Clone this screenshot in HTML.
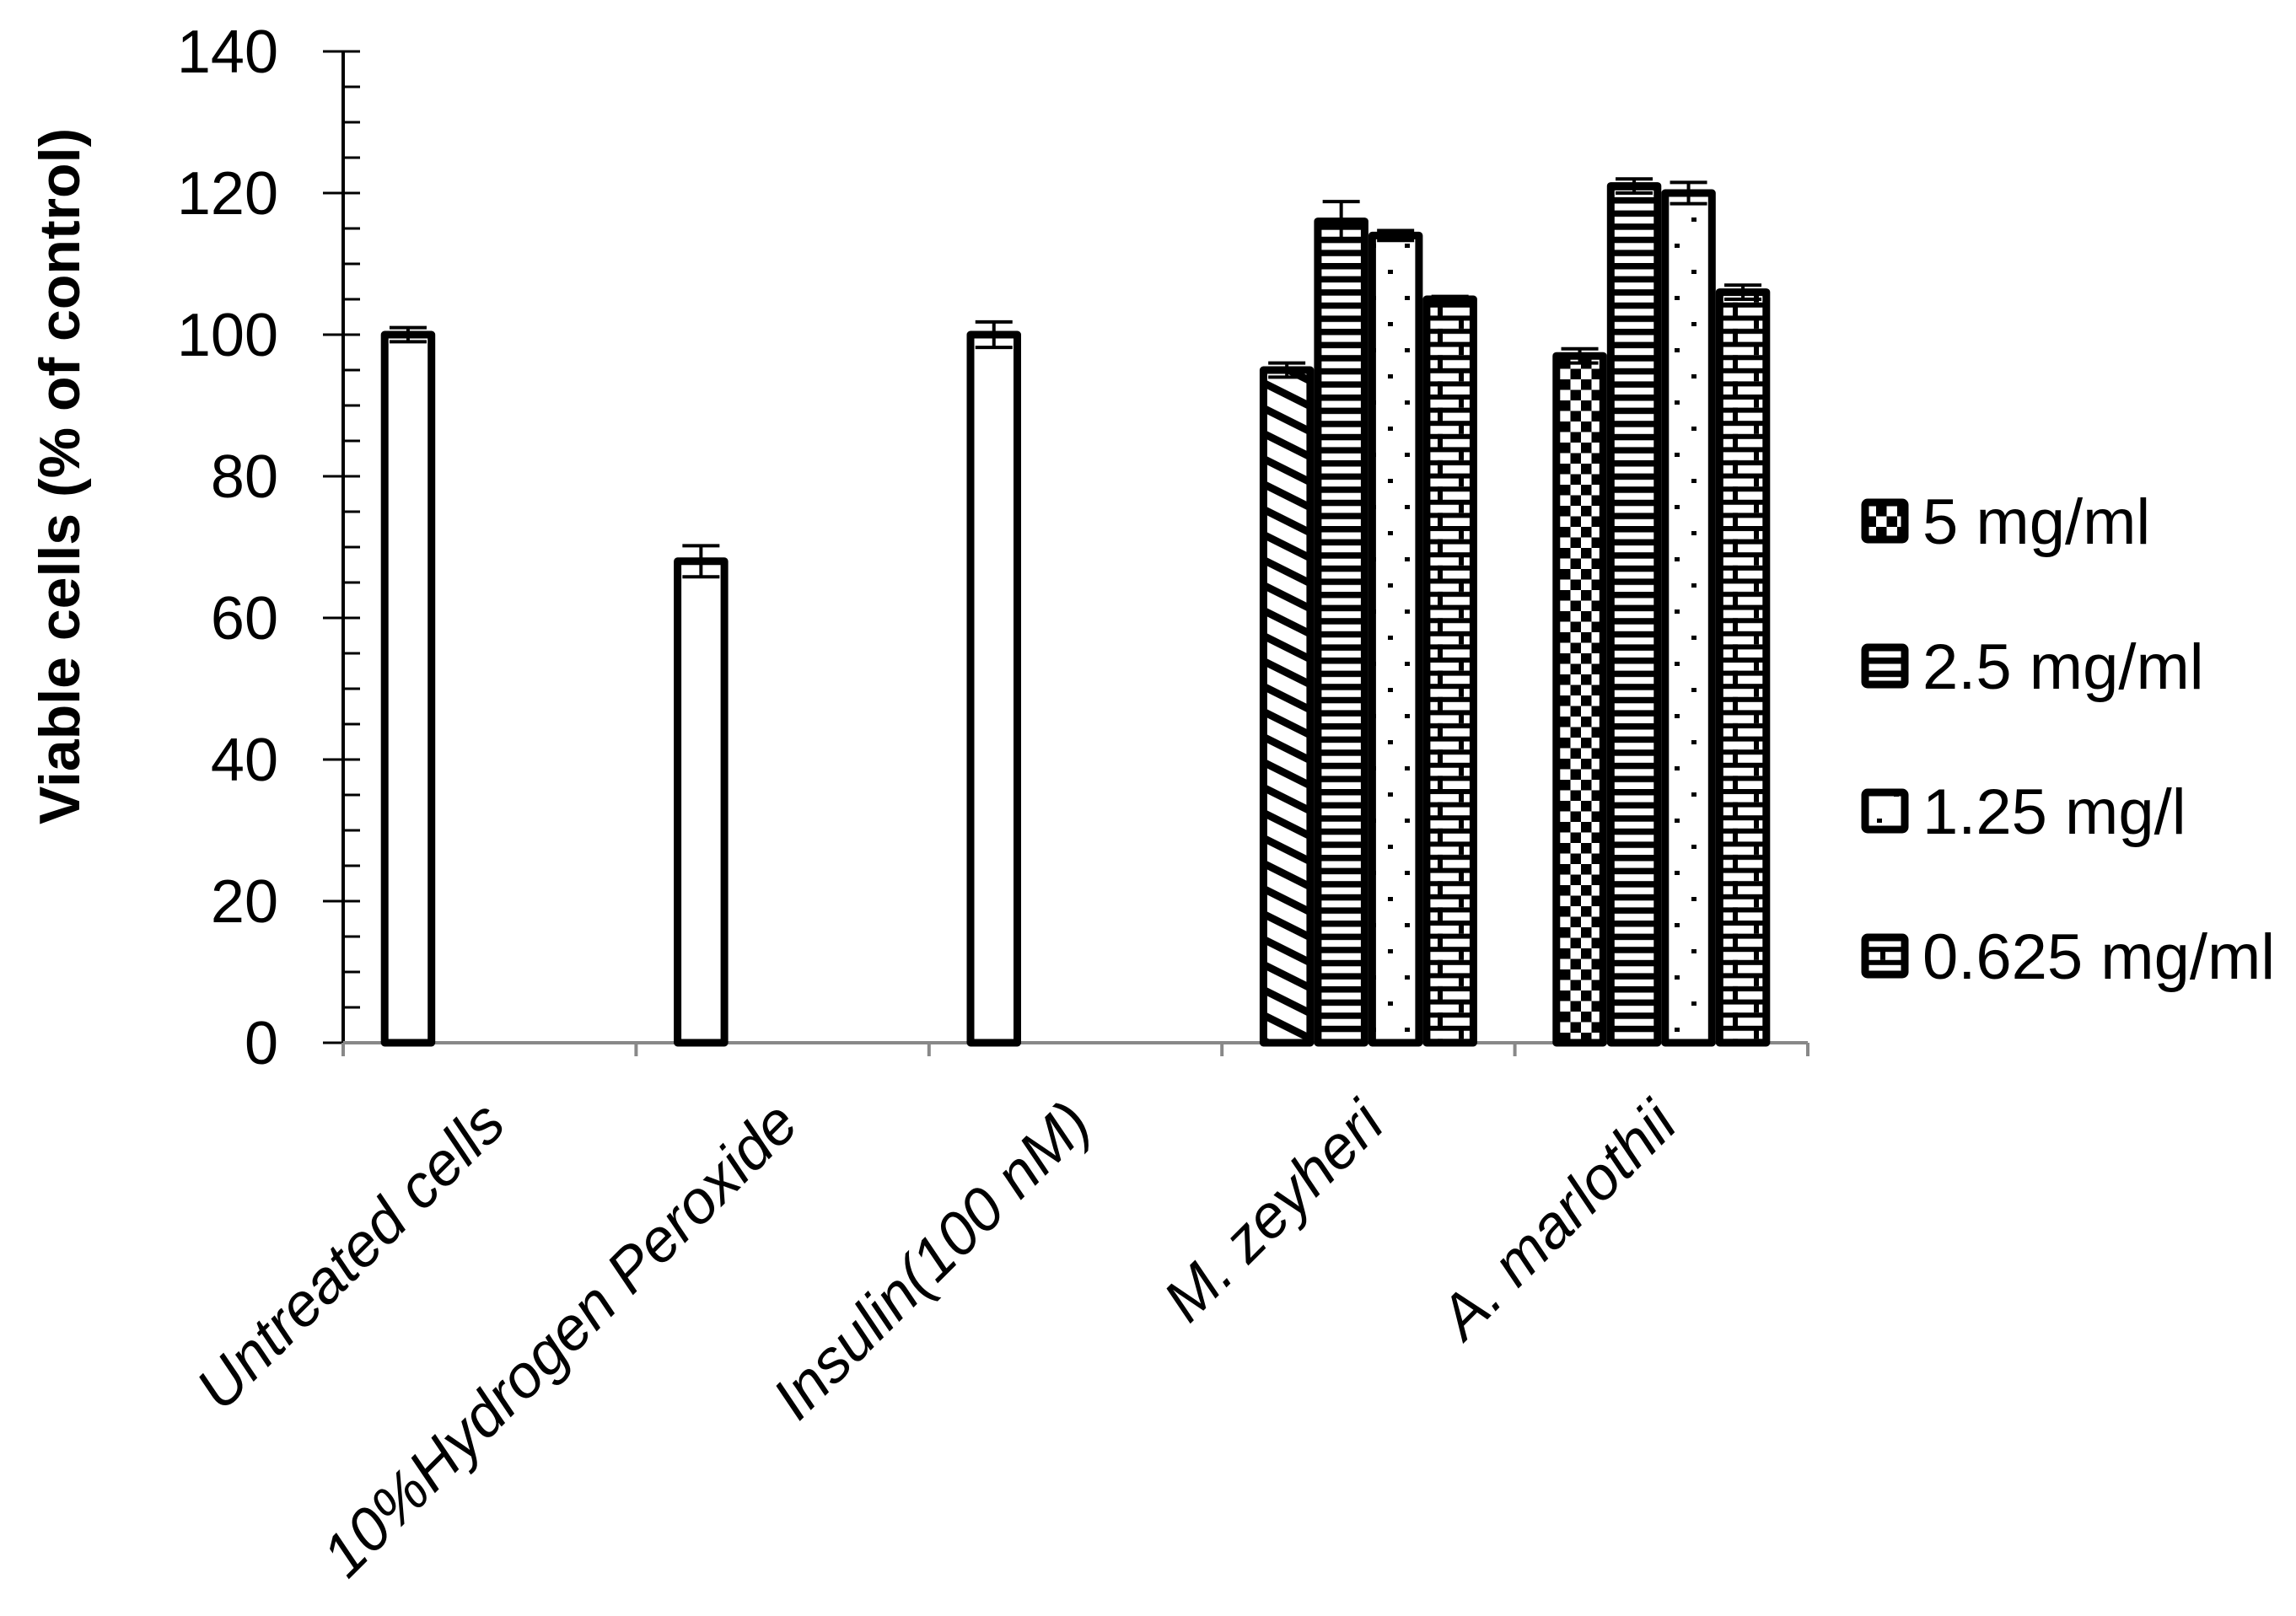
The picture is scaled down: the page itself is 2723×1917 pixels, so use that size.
<!DOCTYPE html>
<html><head><meta charset="utf-8"><style>
html,body{margin:0;padding:0;background:#fff;}
svg{display:block;font-family:"Liberation Sans",sans-serif;}
</style></head><body>
<svg id="chart" width="2723" height="1917" viewBox="0 0 2723 1917" xmlns="http://www.w3.org/2000/svg">
<defs>
<pattern id="p-check" patternUnits="userSpaceOnUse" width="25" height="25"><rect width="25" height="25" fill="#fff"/><rect width="12.5" height="12.5" fill="#000"/><rect x="12.5" y="12.5" width="12.5" height="12.5" fill="#000"/></pattern>
<pattern id="p-hstripe" patternUnits="userSpaceOnUse" width="20" height="15.6"><rect width="20" height="15.6" fill="#fff"/><rect y="0" width="20" height="7.5" fill="#000"/></pattern>
<pattern id="p-dots" patternUnits="userSpaceOnUse" width="40" height="62"><rect width="40" height="62" fill="#fff"/><rect x="6" y="10" width="6" height="5" fill="#000"/><rect x="26" y="41" width="6" height="5" fill="#000"/></pattern>
<pattern id="p-brick" patternUnits="userSpaceOnUse" width="50" height="31.2"><rect width="50" height="31.2" fill="#fff"/><rect y="0" width="50" height="6" fill="#000"/><rect y="15.6" width="50" height="6" fill="#000"/><rect x="30" y="0" width="6" height="15.6" fill="#000"/><rect x="5" y="15.6" width="6" height="15.6" fill="#000"/></pattern>
<pattern id="p-diag" patternUnits="userSpaceOnUse" width="60" height="30"><rect width="60" height="30" fill="#fff"/><polygon points="0,0 60,30 60,40 0,10" fill="#000"/><polygon points="0,-30 60,0 60,10 0,-20" fill="#000"/></pattern>
</defs>
<g id="axes"></g>
<g id="bars"></g>
<g id="legend"></g>
</svg>
<script>
const categories = ["Untreated cells","10%Hydrogen Peroxide","Insulin(100 nM)","M. zeyheri","A. marlothii"];
const seriesNames = ["5 mg/ml","2.5 mg/ml","1.25 mg/l","0.625 mg/ml"];
const s1Values = [100, 68, 100, 95, 97];
const s1Errors = [1, 2.2, 1.8, 1, 1];
const s2Values = [null, null, null, 116, 121];
const s2Errors = [null, null, null, 2.8, 1];
const s3Values = [null, null, null, 114, 120];
const s3Errors = [null, null, null, 0.7, 1.5];
const s4Values = [null, null, null, 105, 106];
const s4Errors = [null, null, null, 0.4, 1];
const yTicks = [0,20,40,60,80,100,120,140];

const NS = "http://www.w3.org/2000/svg";
const X0 = 407, CATW = 347.4, BARW = 64.5, Y0 = 1237, YTOP = 61, YMAX = 140;
function y(v){ return Y0 - v*(Y0-YTOP)/YMAX; }
function catX(i){ return X0 + i*CATW; }
function mk(tag, attrs, parent){ const e=document.createElementNS(NS,tag); for(const k in attrs) e.setAttribute(k,attrs[k]); parent.appendChild(e); return e; }

const axes = document.getElementById('axes');
let ya = mk('line',{x1:X0,y1:YTOP,x2:X0,y2:Y0,stroke:'#000','stroke-width':4},axes);


for(let v=0; v<=YMAX; v+=5){
  const major = v%20===0;
  const t = mk('line',{x1:major?X0-24:X0,y1:y(v),x2:X0+20,y2:y(v),stroke:'#000','stroke-width':3},axes);
  
  
}
yTicks.forEach(v=>{
  const t = mk('text',{x:330,y:y(v)+25,'text-anchor':'end','font-size':72,fill:'#000'},axes);
  t.textContent = v;
  
  
});
const yt = mk('text',{x:0,y:0,'text-anchor':'middle','font-size':68,'font-weight':'bold',fill:'#000',transform:'translate(94,565) rotate(-90)'},axes);
yt.textContent = 'Viable cells (% of control)';


const xa = mk('line',{x1:X0,y1:Y0,x2:catX(categories.length),y2:Y0,stroke:'#888','stroke-width':4},axes);


for(let i=0;i<=categories.length;i++){
  const t = mk('line',{x1:catX(i),y1:Y0,x2:catX(i),y2:Y0+16,stroke:'#888','stroke-width':4},axes);
  
  
}
categories.forEach((c,i)=>{
  const cx = catX(i)+CATW/2+22, cy = Y0+100;
  const t = mk('text',{x:cx,y:cy,'text-anchor':'end','font-size':72,'font-style':'italic',fill:'#000',transform:`rotate(-45 ${cx} ${cy})`},axes);
  t.textContent = c;
  
  
});

const bars = document.getElementById('bars');
const series = [[s1Values,s1Errors],[s2Values,s2Errors],[s3Values,s3Errors],[s4Values,s4Errors]];
const fills = ['url(#p-check)','url(#p-hstripe)','url(#p-dots)','url(#p-brick)'];
function fillFor(si, ci){
  if(si===0){ if(ci<3) return '#fff'; if(ci===3) return 'url(#p-diag)'; }
  return fills[si];
}
series.forEach(([vals,errs],si)=>{
  vals.forEach((v,ci)=>{
    if(v===null) return;
    const x = catX(ci) + CATW/2 - 2*BARW + si*BARW;
    const r = mk('rect',{x:x+4.5,y:y(v),width:BARW-9,height:Y0-y(v),fill:fillFor(si,ci),stroke:'#000','stroke-width':9,'stroke-linejoin':'round'},bars);
    
    
    const e = errs[ci], cx = x+BARW/2;
    const g = mk('g',{stroke:'#000','stroke-width':4},bars);
    
    
    mk('line',{x1:cx,y1:y(v+e),x2:cx,y2:y(v-e)},g);
    mk('line',{x1:cx-22,y1:y(v+e),x2:cx+22,y2:y(v+e)},g);
    mk('line',{x1:cx-22,y1:y(v-e),x2:cx+22,y2:y(v-e)},g);
  });
});

const legend = document.getElementById('legend');
const legFills = ['url(#p-check)','url(#p-hstripe)','url(#p-dots)','url(#p-brick)'];
seriesNames.forEach((n,i)=>{
  const cy = 618 + i*172;
  const g = mk('g',{},legend);
  
  
  mk('rect',{x:2212,y:cy-22,width:47,height:44,fill:legFills[i],stroke:'#000','stroke-width':9,rx:3},g);
  const t = mk('text',{x:2280,y:cy+27,'font-size':76,fill:'#000'},g);
  t.textContent = n;
});
</script>
</body></html>
